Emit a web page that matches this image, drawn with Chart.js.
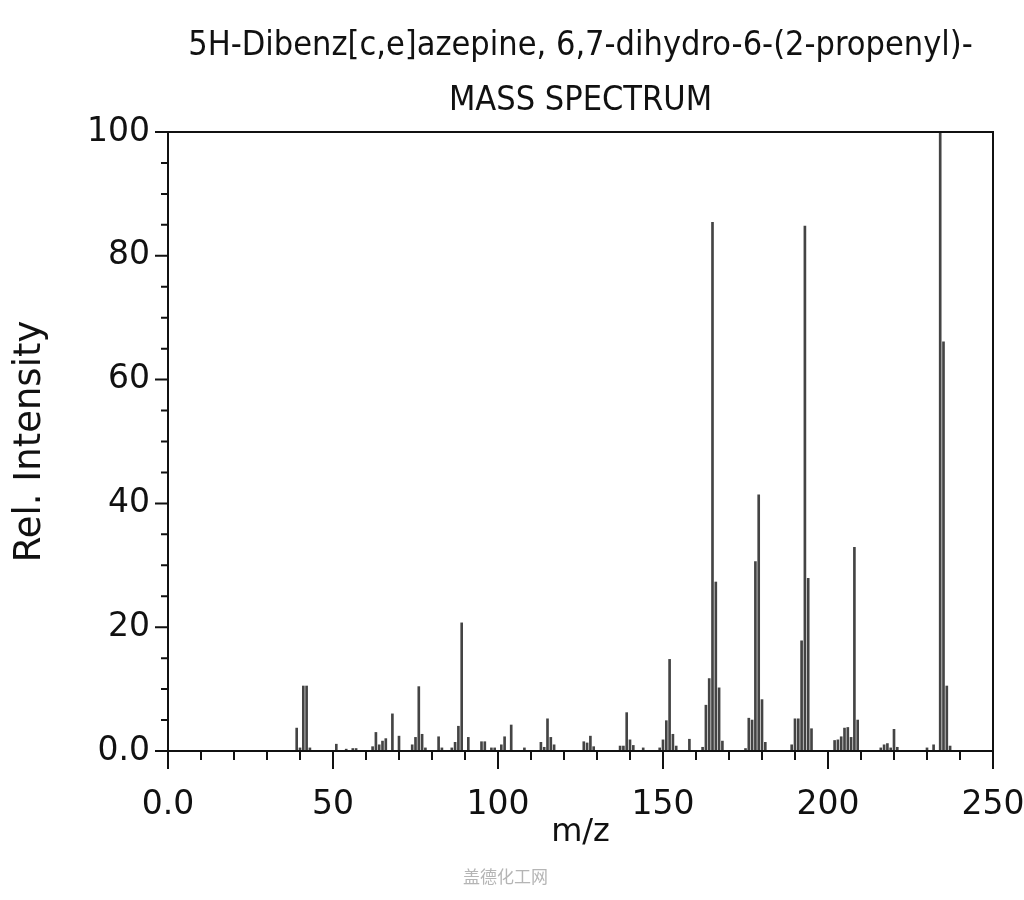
<!DOCTYPE html>
<html>
<head>
<meta charset="utf-8">
<script src="https://cdn.jsdelivr.net/npm/chart.js@4"></script>
<style>
  body { margin: 0; background: #fff; }
  #wrap { position: relative; width: 1024px; height: 900px; }
  #mark { position: absolute; left: 463px; top: 863px; font: 17px "Noto Sans CJK SC"; color: #b5b5b5; }
</style>
</head>
<body>
<div id="wrap">
  <canvas id="ms-graph" width="1024" height="900"></canvas>
  <div id="mark">盖德化工网</div>
</div>
<script>
// peaks: m/z and relative intensity
const mzValues = [39, 40, 41, 42, 43, 51, 54, 56, 57, 62, 63, 64, 65, 66, 68, 70, 74, 75, 76, 77, 78,
    82, 83, 86, 87, 88, 89, 91, 95, 96, 98, 99, 101, 102, 104, 108, 113, 114, 115, 116, 117,
    126, 127, 128, 129, 137, 138, 139, 140, 141, 144, 149, 150, 151, 152, 153, 154, 158,
    162, 163, 164, 165, 166, 167, 168, 175, 176, 177, 178, 179, 180, 181,
    189, 190, 191, 192, 193, 194, 195, 202, 203, 204, 205, 206, 207, 208, 209,
    216, 217, 218, 219, 220, 221, 230, 232, 234, 235, 236, 237];
const intensities = [3.7, 0.5, 10.5, 10.5, 0.5, 1.1, 0.3, 0.4, 0.4, 0.7, 3.0, 1.0, 1.6, 2.0, 6.0, 2.4, 1.0, 2.2, 10.4, 2.7, 0.5,
    2.3, 0.5, 0.5, 1.4, 4.0, 20.7, 2.2, 1.5, 1.5, 0.5, 0.5, 1.0, 2.3, 4.2, 0.5, 1.4, 0.6, 5.2, 2.2, 1.0,
    1.5, 1.3, 2.4, 0.7, 0.8, 0.8, 6.2, 1.8, 0.9, 0.5, 0.5, 1.8, 4.9, 14.8, 2.7, 0.8, 1.9,
    0.6, 7.4, 11.7, 85.4, 27.3, 10.2, 1.6, 0.4, 5.3, 5.0, 30.6, 41.4, 8.3, 1.4,
    1.0, 5.2, 5.2, 17.8, 84.8, 27.9, 3.6, 1.7, 1.8, 2.3, 3.7, 3.8, 2.2, 32.9, 5.0,
    0.5, 1.0, 1.2, 0.5, 3.5, 0.6, 0.5, 1.0, 100, 66.1, 10.5, 0.8];
const titleLines = ['5H-Dibenz[c,e]azepine, 6,7-dihydro-6-(2-propenyl)-', 'MASS SPECTRUM'];

const framePlugin = { // box round the plot, minor/major ticks and the two title lines
    id: 'frame',
    afterDraw(chart) {
        const { ctx, chartArea: a, scales: { x, y } } = chart;
        ctx.save();
        ctx.strokeStyle = '#111';
        ctx.lineWidth = 2;
        ctx.strokeRect(a.left, a.top, a.right - a.left, a.bottom - a.top);
        ctx.beginPath();
        for (let v = 0; v <= 250; v += 10) {
            const px = x.getPixelForValue(v);
            ctx.moveTo(px, a.bottom);
            ctx.lineTo(px, a.bottom + (v % 50 === 0 ? 18 : 9));
        }
        for (let v = 0; v <= 100; v += 5) {
            const py = y.getPixelForValue(v);
            ctx.moveTo(a.left, py);
            ctx.lineTo(a.left - (v % 20 === 0 ? 13 : 7), py);
        }
        ctx.stroke();
        ctx.fillStyle = '#111';
        ctx.textAlign = 'center';
        ctx.textBaseline = 'middle';
        ctx.font = '34px "DejaVu Sans Condensed", "DejaVu Sans"';
        const cx = (a.left + a.right) / 2;
        ctx.fillText(titleLines[0], cx, 46);
        ctx.fillText(titleLines[1], cx, 101);
        ctx.restore();
    }
};

window.onload = () => {
    const ctx = document.getElementById('ms-graph').getContext('2d');
    new Chart(ctx, {
        type: 'bar',
        data: {
            datasets: [{
                label: 'Rel. Intensity',
                data: mzValues.map((m, i) => ({ x: m, y: intensities[i] })),
                backgroundColor: '#444',
                borderWidth: 0,
                barThickness: 2
            }]
        },
        options: {
            responsive: false,
            animation: false,
            layout: { padding: { top: 132, right: 0, bottom: 44, left: 0 } },
            plugins: {
                legend: { display: false },
                tooltip: { enabled: false }
            },
            scales: {
                x: {
                    type: 'linear',
                    offset: false,
                    min: 0,
                    max: 250,
                    grid: { display: false, drawTicks: false },
                    border: { display: false },
                    afterFit: s => { s.height = 105; s.paddingRight = 31; },
                    ticks: {
                        stepSize: 50,
                        padding: 35,
                        maxRotation: 0,
                        color: '#111',
                        font: { family: 'DejaVu Sans', size: 33 },
                        callback: v => v === 0 ? '0.0' : v
                    },
                    title: {
                        display: true,
                        text: 'm/z',
                        color: '#111',
                        font: { family: 'DejaVu Sans', size: 32 }
                    }
                },
                y: {
                    min: 0,
                    max: 100,
                    grid: { display: false, drawTicks: false },
                    border: { display: false },
                    afterFit: s => { s.width = 168; },
                    ticks: {
                        stepSize: 20,
                        padding: 18,
                        color: '#111',
                        font: { family: 'DejaVu Sans', size: 33 },
                        callback: v => v === 0 ? '0.0' : v
                    },
                    title: {
                        display: true,
                        text: 'Rel. Intensity',
                        color: '#111',
                        padding: { top: 8, bottom: 4 },
                        font: { family: 'DejaVu Sans', size: 37 }
                    }
                }
            }
        },
        plugins: [framePlugin]
    });
};
</script>
</body>
</html>
